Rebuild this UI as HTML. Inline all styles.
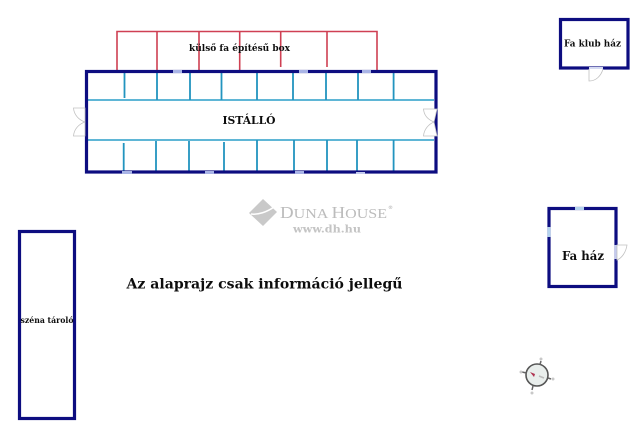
<!DOCTYPE html>
<html><head><meta charset="utf-8"><style>
html,body{margin:0;padding:0;background:#fff;width:640px;height:431px;overflow:hidden}
svg{display:block}
text{font-family:"DejaVu Serif","Liberation Serif",serif;font-weight:bold;fill:#111}
</style></head><body>
<svg width="640" height="431" viewBox="0 0 640 431" xmlns="http://www.w3.org/2000/svg">
<defs><filter id="b" filterUnits="userSpaceOnUse" x="0" y="0" width="640" height="431"><feGaussianBlur stdDeviation="0.35"/></filter></defs>
<g filter="url(#b)">
<rect x="0" y="0" width="640" height="431" fill="#fff"/>
<!-- red boxes -->
<g stroke="#cf3f52" stroke-width="1.6" fill="none">
<path d="M117 70V31.5H377V70"/>
<path d="M157 31.5V70M199 31.5V70M239.7 31.5V70M280.7 31.5V67M327 31.5V67"/>
</g>
<!-- stalls -->
<g stroke="#2a9dc9" stroke-width="1.6" fill="none">
<path d="M88 100H434M88 140H434"/>
</g>
<g stroke="#2494bf" stroke-width="1.8" fill="none">
<path d="M124.5 73V98M157 73V100M190 73V100M221.5 73V100M257 73V100M293 73V100M326 73V100M358 73V100M393.6 73V100"/>
<path d="M123.7 143V171M156 141V171M189 141V171M224 142V171M257 140V171M294 140V171M327 140V171M357 140V171M393.6 140V171"/>
</g>
<!-- stable walls -->
<rect x="86.5" y="71.5" width="349.5" height="100.5" fill="none" stroke="#0a0a80" stroke-width="3.2"/>
<!-- windows -->
<g fill="#a9b4e6">
<rect x="173" y="70" width="9" height="3"/><rect x="299" y="70" width="9" height="3"/><rect x="362" y="70" width="9" height="3"/>
<rect x="122" y="171" width="10" height="3"/><rect x="205" y="171" width="9" height="3"/><rect x="295" y="171" width="9" height="3"/>
<rect x="356" y="172" width="9" height="2" fill="#c4cbee"/>
</g>
<!-- stable doors -->
<g fill="#fff" stroke="#c2c2c2" stroke-width="0.8">
<path d="M85 108H73.5C74 115 79 120 85 122Z"/>
<path d="M85 136H73.5C74 129 79 124 85 122Z"/>
<path d="M437 109H423.5C424 116 429 120 434 122Z"/>
<path d="M437 136H423.5C424 129 429 124 434 122Z"/>
</g>
<!-- Fa klub haz -->
<rect x="560.5" y="19.5" width="67.5" height="48.5" fill="none" stroke="#0a0a80" stroke-width="3.2"/>
<rect x="589" y="67" width="14" height="3" fill="#d5daf2"/>
<path d="M589 69V81C596 81 601 76 603 69" fill="#fff" stroke="#c0c0c0" stroke-width="0.8"/>
<!-- Fa haz -->
<rect x="549" y="208.5" width="67" height="78" fill="none" stroke="#0a0a80" stroke-width="3.2"/>
<rect x="575" y="207" width="9" height="3" fill="#b4d3ee"/>
<rect x="547.5" y="227" width="3" height="10" fill="#b4d3ee"/>
<rect x="614.5" y="245" width="3" height="14" fill="#c4cbee"/>
<path d="M617 245H627C626 252 622 258 617 260Z" fill="#fff" stroke="#c0c0c0" stroke-width="0.8"/>
<!-- szena -->
<rect x="19.5" y="231.5" width="55" height="187" fill="none" stroke="#0a0a80" stroke-width="3.2"/>
<!-- labels -->
<text x="189" y="51" font-size="9.5" textLength="101" lengthAdjust="spacingAndGlyphs">külső fa építésű box</text>
<text x="222.5" y="124" font-size="11" textLength="53" lengthAdjust="spacingAndGlyphs">ISTÁLLÓ</text>
<text x="564" y="46.5" font-size="9.5" textLength="57" lengthAdjust="spacingAndGlyphs">Fa klub ház</text>
<text x="562" y="260" font-size="12" textLength="42" lengthAdjust="spacingAndGlyphs">Fa ház</text>
<text x="20.5" y="323" font-size="8.5" textLength="53" lengthAdjust="spacingAndGlyphs">széna tároló</text>
<text x="126.5" y="288.5" font-size="13.5" textLength="276" lengthAdjust="spacingAndGlyphs">Az alaprajz csak információ jellegű</text>
<!-- watermark -->
<path d="M263 199L277 212L263 226L249 213Z" fill="#c9c9c9"/>
<path d="M251 214C258 215 267 212 274 207" stroke="#fff" stroke-width="1.5" fill="none"/>
<text x="280" y="218" style="fill:#bcbcbc;font-family:'Liberation Serif',serif;font-weight:normal" font-size="14" textLength="107" lengthAdjust="spacingAndGlyphs"><tspan font-size="16.5">D</tspan>UNA <tspan font-size="16.5">H</tspan>OUSE</text>
<text x="388" y="209" font-size="5" style="fill:#bfbfbf">®</text>
<text x="293" y="232.5" font-size="10" style="fill:#c4c4c4" textLength="68" lengthAdjust="spacingAndGlyphs">www.dh.hu</text>
<!-- compass -->
<circle cx="537" cy="375" r="11" fill="#e9eeec" stroke="#555" stroke-width="1.6"/>
<path d="M530 372L535 374L534 377Z" fill="#b03050"/>
<path d="M539 376L544 378" stroke="#bbb" stroke-width="1.5"/>
<g stroke="#666" stroke-width="1.5">
<path d="M526.5 373L522 372M540 364.5L541 361M548 378L551 379M533 386L532 390"/>
</g>
<g fill="#c8c8c8">
<circle cx="521" cy="372" r="1.5"/><circle cx="541" cy="359" r="1.5"/><circle cx="553" cy="379" r="1.5"/><circle cx="532" cy="393" r="1.5"/>
</g>
</g>
</svg>
</body></html>
